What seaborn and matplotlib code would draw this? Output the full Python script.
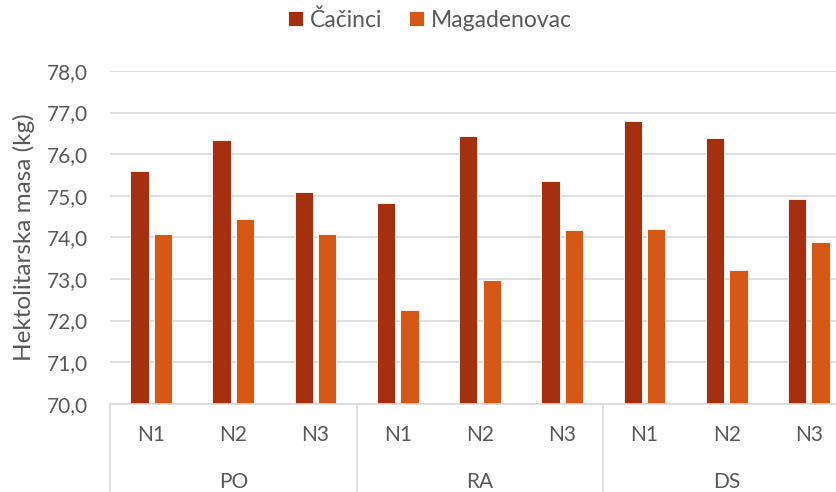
import numpy as np
import pandas as pd
import matplotlib.pyplot as plt
import matplotlib.transforms as mtransforms
import seaborn as sns

# podaci
groups = ["PO", "RA", "DS"]
subs = ["N1", "N2", "N3"]
series = ["Čačinci", "Magadenovac"]
cacinci = [75.6, 76.33, 75.09, 74.83, 76.43, 75.36, 76.8, 76.4, 74.93]
magadenovac = [74.09, 74.44, 74.07, 72.26, 72.97, 74.17, 74.2, 73.21, 73.9]
y_ticks = [70, 71, 72, 73, 74, 75, 76, 77, 78]

COLORS = ["#A5300F", "#D55816"]
GRID = "#D9D9D9"
TXT = "#595959"

cats = [f"{g} {s}" for g in groups for s in subs]
df = pd.DataFrame({
    "cat": cats * 2,
    "serija": [series[0]] * len(cats) + [series[1]] * len(cats),
    "masa": cacinci + magadenovac,
})

sns.set_theme(style="white")
plt.rcParams["font.family"] = ["Lato", "DejaVu Sans"]

fig = plt.figure(figsize=(8.37, 4.92), dpi=100)
ax = fig.add_axes([110 / 837, 1 - 403.7 / 492, 740 / 837, (403.7 - 71) / 492])

sns.barplot(data=df, x="cat", y="masa", hue="serija", order=cats,
            hue_order=series, palette=COLORS, saturation=1,
            width=0.57, gap=0.22, edgecolor="white", linewidth=0.6,
            errorbar=None, ax=ax)

ax.set_ylim(70, 78)
ax.set_xlim(-0.5, len(cats) - 0.5)
ax.set_yticks(y_ticks)
ax.set_yticklabels([f"{v:.1f}".replace(".", ",") for v in y_ticks])
ax.set_xticks(range(len(cats)))
ax.set_xticklabels([c.split()[1] for c in cats])
ax.tick_params(axis="y", length=0, pad=16, labelsize=15, labelcolor=TXT)
ax.tick_params(axis="x", length=0, pad=15, labelsize=15, labelcolor=TXT)

ax.yaxis.grid(True, color=GRID, linewidth=1.2)
ax.set_axisbelow(True)
for s in ["top", "right", "left"]:
    ax.spines[s].set_visible(False)
ax.spines["bottom"].set_color(GRID)
ax.spines["bottom"].set_linewidth(1.2)

ax.set_xlabel("")
ax.set_ylabel("Hektolitarska masa (kg)", color=TXT, fontsize=17.5)
ax.yaxis.set_label_coords(-0.101, 0.5)

# druga razina kategorija
trans = mtransforms.blended_transform_factory(ax.transData, ax.transAxes)
for i, g in enumerate(groups):
    center = i * len(subs) + (len(subs) - 1) / 2
    ax.text(center, -0.235, g, transform=trans, ha="center", va="center",
            fontsize=15, color=TXT)
for i in range(len(groups) + 1):
    b = i * len(subs) - 0.5
    ax.plot([b, b], [0, -0.3], transform=trans, color=GRID, lw=1.2,
            clip_on=False)

handles, labels = ax.get_legend_handles_labels()
ax.get_legend().remove()
fig.legend(handles, labels, loc="center", bbox_to_anchor=(430 / 837, 1 - 20 / 492),
           ncol=2, frameon=False, fontsize=16.5, labelcolor=TXT,
           handlelength=0.65, handleheight=0.65, handletextpad=0.3,
           columnspacing=1.2)

fig.savefig("out.png", dpi=100)
